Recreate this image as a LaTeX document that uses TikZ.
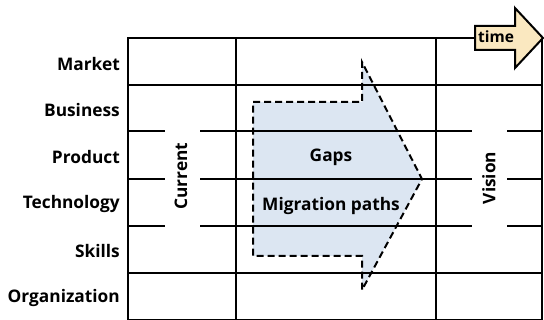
\documentclass[tikz,border=0pt]{standalone}
\usepackage{fontspec}
\setmainfont{Open Sans}
\begin{document}
\begin{tikzpicture}[x=1pt,y=-1pt,
  lbl/.style={font=\bfseries\fontsize{17.3}{19}\selectfont, inner sep=0pt},
  rowlbl/.style={lbl, anchor=east},
  gridline/.style={line width=2pt, black},
]
\useasboundingbox (0,0) rectangle (544,320);
% dashed arrow fill
\fill[fill={rgb,255:red,220;green,230;blue,242}] (253,102) -- (362,102) -- (362,62) -- (422,179) -- (362,290) -- (362,256) -- (253,256) -- cycle;
% grid
\draw[gridline] (128,38) rectangle (541.5,320);
\draw[gridline] (128,85) -- (541.5,85);
\foreach \y in {131.5,179,226.5} {
  \draw[gridline] (128,\y) -- (165,\y);
  \draw[gridline] (200,\y) -- (472,\y);
  \draw[gridline] (507,\y) -- (541.5,\y);
}
\draw[gridline] (128,273.5) -- (541.5,273.5);
\draw[gridline] (236,38) -- (236,320);
\draw[gridline] (435.5,38) -- (435.5,320);
\draw[line width=2pt, dash pattern=on 7pt off 4pt] (253,102) -- (362,102) -- (362,62) -- (422,179) -- (362,290) -- (362,256) -- (253,256) -- cycle;
\node[lbl] (gaps) at (331,157) {Gaps};
\node[lbl] (mig) at (331,206) {Migration paths};
\node[lbl, rotate=90] (cur) at (181,176) {Current};
\node[lbl, rotate=90] (vis) at (489,178) {Vision};
% time arrow
\draw[line width=2pt, fill={rgb,255:red,250;green,232;blue,192}, line join=miter]
  (475,26) -- (515,26) -- (515,8) -- (543,38) -- (515,68) -- (515,50) -- (475,50) -- cycle;
\node[lbl, font=\bfseries\fontsize{15.5}{17}\selectfont] (time) at (496,37) {time};
% row labels
\node[rowlbl] (m) at (120,64) {Market};
\node[rowlbl] (b) at (120,110) {Business};
\node[rowlbl] (p) at (120,157) {Product};
\node[rowlbl] (t) at (120,204) {Technology};
\node[rowlbl] (s) at (120,251) {Skills};
\node[rowlbl] (o) at (120,298) {Organization};
\end{tikzpicture}
\end{document}
